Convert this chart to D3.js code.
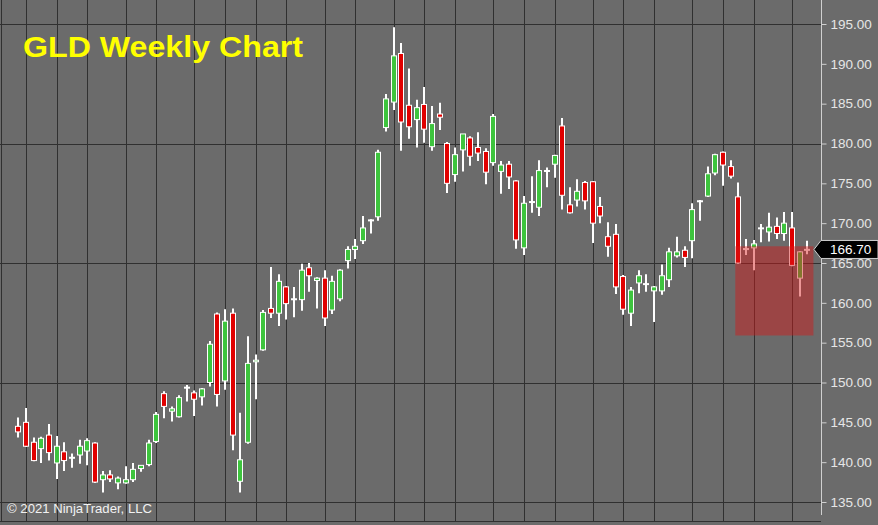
<!DOCTYPE html>
<html>
<head>
<meta charset="utf-8">
<script src="https://cdn.jsdelivr.net/npm/d3@7"></script>
<style>
html,body{margin:0;padding:0;background:#6b6b6b;}
svg{display:block;}
</style>
</head>
<body>
<svg id="chart" width="878" height="525"></svg>
<script>
// ---- Data (weekly GLD candles) ----
const opens = [144.5,145.0,142.5,141.7,143.4,139.9,141.3,140.5,140.9,141.4,142.4,137.8,138.4,137.4,137.4,137.8,139.2,139.7,142.6,148.6,
146.4,145.7,149.3,148.7,148.2,150.0,158.6,150.2,158.7,137.6,142.5,152.6,154.1,159.3,158.7,162.0,160.4,160.4,164.4,162.8,
163.1,159.1,160.5,165.3,166.7,167.8,170.3,170.8,182.0,185.2,191.3,184.8,183.0,184.9,179.6,183.7,180.0,176.1,179.2,180.7,
179.5,179.0,177.6,176.5,177.4,175.3,166.9,172.6,172.0,176.5,177.4,182.2,172.3,172.9,175.1,175.2,172.1,168.3,168.6,163.3,
158.7,162.5,162.3,161.5,161.5,162.9,165.9,166.6,167.8,172.7,173.4,176.3,178.9,177.1,173.3,166.7,166.9,169.3,168.9,169.6,
168.7,169.4,163.1,166.6];
const highs = [145.6,146.8,143.1,143.2,144.8,143.3,142.5,141.1,142.8,143.0,142.5,138.9,139.0,138.2,139.5,139.9,139.6,142.8,146.3,148.9,
147.0,148.4,149.7,149.0,149.3,155.2,158.8,159.2,159.3,146.2,155.8,153.5,159.1,164.5,163.6,162.1,162.0,164.9,165.0,163.2,
164.1,163.4,164.2,167.1,168.0,170.9,170.5,179.2,186.2,194.6,192.6,189.4,185.5,187.1,184.7,185.1,180.2,179.5,181.2,180.9,
181.4,179.4,183.7,177.8,177.8,175.4,173.4,175.9,177.9,177.0,178.6,183.2,174.5,175.5,175.3,175.3,173.3,170.1,169.9,163.5,
162.0,164.1,163.6,162.1,164.8,166.9,168.3,167.1,172.5,172.9,177.1,178.7,179.0,177.9,175.1,168.0,167.9,169.9,171.3,170.7,
171.4,171.4,166.5,167.8];
const lows = [143.1,141.9,140.1,139.9,140.2,137.9,138.9,139.3,139.8,139.6,137.4,136.2,137.5,136.6,137.3,137.5,138.8,139.5,142.4,145.5,
145.1,145.6,147.6,145.8,147.1,149.5,147.0,149.1,141.5,136.2,142.3,147.9,154.0,158.1,157.1,157.9,158.2,159.0,161.4,159.3,
157.1,158.6,160.2,164.3,165.5,167.4,168.7,170.3,181.5,184.2,179.1,180.6,179.5,180.1,179.1,181.7,173.8,175.2,176.5,177.2,
177.8,174.9,177.2,173.7,174.3,166.8,166.0,171.3,170.9,174.5,175.7,171.7,171.2,172.1,171.7,167.5,170.0,165.8,161.1,158.5,
157.1,161.2,161.4,157.6,161.0,162.0,165.7,164.5,165.6,170.3,173.3,176.0,174.7,175.6,164.9,166.0,164.1,167.6,167.7,168.0,
167.8,164.6,160.8,166.1];
const closes = [143.8,142.0,140.2,143.0,141.2,142.0,140.2,140.6,142.0,142.7,137.5,138.4,137.9,138.0,137.8,139.1,139.6,142.4,146.0,147.0,
146.7,148.1,149.4,147.9,149.2,154.8,148.5,157.7,143.4,140.3,152.4,152.8,158.8,158.7,162.7,159.9,160.5,164.1,163.4,163.1,
158.1,162.7,164.1,166.7,167.1,169.4,170.4,178.9,185.6,191.0,182.7,182.1,184.5,181.8,182.5,183.3,175.0,178.6,181.2,178.4,
178.8,176.4,183.4,177.3,175.8,167.9,172.5,172.7,176.6,176.6,178.5,173.5,171.3,174.0,172.8,170.0,170.9,167.1,162.0,159.2,
161.6,163.4,162.4,162.0,163.4,166.4,166.4,165.7,171.7,172.8,176.2,178.6,177.3,175.9,165.0,166.8,167.4,169.4,169.5,168.7,
170.0,164.7,166.4,166.7];

// monthly vertical grid lines (week index)
const gridWeeks = [1,5,9,14,18,23,27,31,35,40,44,49,53,57,62,66,70,75,79,83,88,92,96,101];
// price ticks
const priceTicks = [135,140,145,150,155,160,165,170,175,180,185,190,195];
const priceGrid = [135,150,165,180,195];
// highlighted zone (week span, price span)
const zoneWeeks = [93.6, 103.8];
const zonePrices = [155.9, 167.1];
const lastPrice = 166.70;
const titleText = "GLD Weekly Chart";
const copyrightText = "\u00A9 2021 NinjaTrader, LLC";

// ---- Drawing ----
const W = 878, H = 525;
const axisX = 821;
const svg = d3.select("#chart");
svg.append("rect").attr("width", W).attr("height", H).attr("fill", "#6b6b6b");

const n = opens.length;
const x = d3.scaleLinear().domain([0, n - 1]).range([18.3, 807.3]);
const y = d3.scaleLinear().domain([135, 195]).range([502, 24]);

const data = opens.map((o, i) => ({i, o, h: highs[i], l: lows[i], c: closes[i]}));

// grid
const grid = svg.append("g");
grid.selectAll("line.v").data(gridWeeks).enter().append("line")
  .attr("x1", d => Math.round(x(d)) + 0.5).attr("x2", d => Math.round(x(d)) + 0.5)
  .attr("y1", 0).attr("y2", 521)
  .attr("stroke", "#303030").attr("stroke-width", 1);
grid.selectAll("line.h").data(priceGrid).enter().append("line")
  .attr("x1", 0).attr("x2", axisX)
  .attr("y1", d => Math.round(y(d)) + 0.5).attr("y2", d => Math.round(y(d)) + 0.5)
  .attr("stroke", "#303030").attr("stroke-width", 1);
// frame
svg.append("line").attr("x1", 1.5).attr("x2", 1.5).attr("y1", 0).attr("y2", 521).attr("stroke", "#303030");
svg.append("line").attr("x1", 0).attr("x2", axisX).attr("y1", 521.5).attr("y2", 521.5).attr("stroke", "#303030");

// candles
const cg = svg.append("g");
const bw = 5;
data.forEach(d => {
  const cx = Math.round(x(d.i));
  cg.append("line")
    .attr("x1", cx).attr("x2", cx)
    .attr("y1", y(d.h)).attr("y2", y(d.l))
    .attr("stroke", "#ffffff").attr("stroke-width", 2);
  const top = y(Math.max(d.o, d.c)), bot = y(Math.min(d.o, d.c));
  if (Math.abs(d.c - d.o) < 0.15) {
    cg.append("rect").attr("x", cx - 3).attr("y", (top + bot) / 2 - 1)
      .attr("width", 6).attr("height", 2).attr("fill", "#ffffff");
  } else {
    cg.append("rect")
      .attr("x", cx - bw / 2).attr("y", top)
      .attr("width", bw).attr("height", Math.max(1, bot - top))
      .attr("fill", d.c > d.o ? "#3ec43e" : "#e00000")
      .attr("stroke", "#ffffff").attr("stroke-width", 1);
  }
});

// highlighted zone
svg.append("rect")
  .attr("x", x(zoneWeeks[0])).attr("y", y(zonePrices[1]))
  .attr("width", x(zoneWeeks[1]) - x(zoneWeeks[0]))
  .attr("height", y(zonePrices[0]) - y(zonePrices[1]))
  .attr("fill", "rgba(215,25,25,0.45)");

// right axis
const axis = d3.axisRight(y).tickValues(priceTicks).tickSize(5).tickPadding(4).tickFormat(d3.format(".2f"));
const ag = svg.append("g").attr("transform", `translate(${axisX + 0.5},0)`).call(axis);
ag.select(".domain").remove();
ag.selectAll(".tick line").attr("stroke", "#d0d0d0");
ag.selectAll(".tick text").attr("fill", "#e6e6e6").attr("font-family", "Liberation Sans, Arial, sans-serif").attr("font-size", 13.5);
svg.append("line").attr("x1", axisX + 0.5).attr("x2", axisX + 0.5).attr("y1", 0).attr("y2", 515).attr("stroke", "#d0d0d0");

// last price marker
const ly = y(lastPrice);
svg.append("path")
  .attr("d", `M${axisX - 7},${ly} L${axisX},${ly - 9} L${W},${ly - 9} L${W},${ly + 9} L${axisX},${ly + 9} Z`)
  .attr("fill", "#000").attr("stroke", "#cfcfcf").attr("stroke-width", 1);
svg.append("text").attr("x", 830).attr("y", ly + 5)
  .attr("fill", "#ffffff").attr("font-family", "Liberation Sans, Arial, sans-serif").attr("font-size", 13.5)
  .text(d3.format(".2f")(lastPrice));

// title
svg.append("text").attr("x", 23).attr("y", 56.5)
  .attr("fill", "#ffff00").attr("font-family", "Liberation Sans, Arial, sans-serif")
  .attr("font-weight", "bold").attr("font-size", 29)
  .attr("textLength", 280).attr("lengthAdjust", "spacingAndGlyphs")
  .text(titleText);

// copyright
svg.append("text").attr("x", 7).attr("y", 513)
  .attr("fill", "#f2f2f2").attr("font-family", "Liberation Sans, Arial, sans-serif").attr("font-size", 13)
  .attr("textLength", 145).attr("lengthAdjust", "spacingAndGlyphs")
  .text(copyrightText);
</script>
</body>
</html>
